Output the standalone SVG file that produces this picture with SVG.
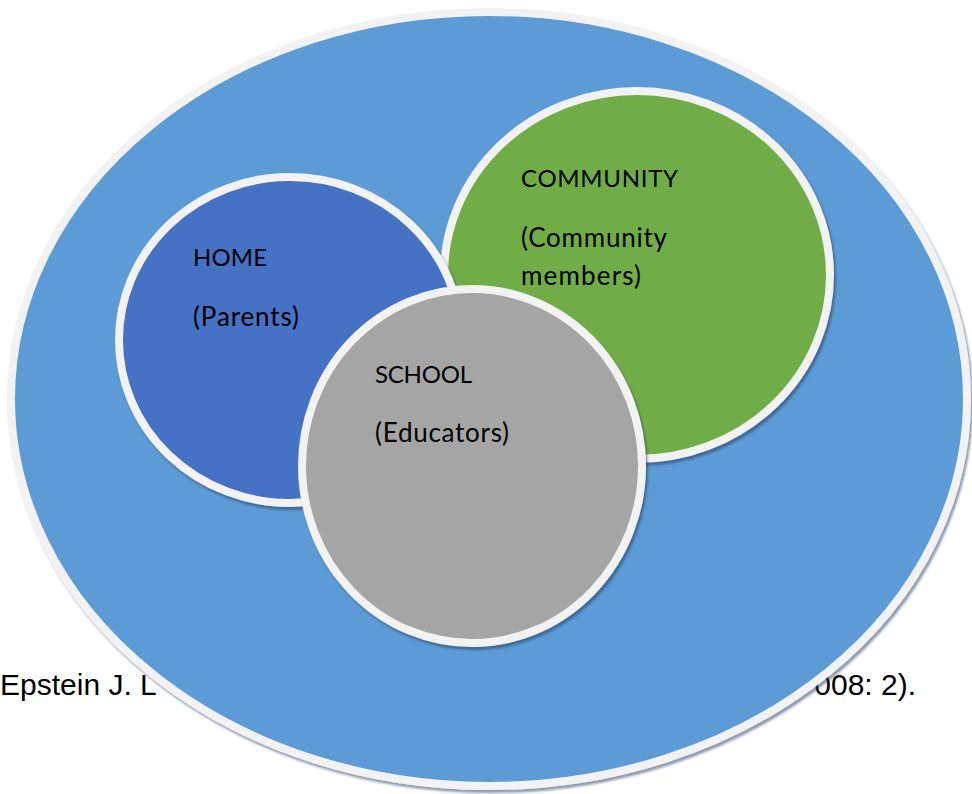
<svg xmlns="http://www.w3.org/2000/svg" width="972" height="794" viewBox="0 0 972 794">
  <defs>
    <filter id="shade" x="-5%" y="-5%" width="112%" height="112%">
      <feDropShadow dx="2" dy="3" stdDeviation="1.2" flood-color="#1F3864" flood-opacity="0.5"/>
    </filter>
  </defs>
  <style>
    .ring { stroke: #F2F2F2; stroke-width: 8; filter: url(#shade); }
    .label { font-family: Lato, "Open Sans", sans-serif; font-size: 26px; fill: #000000; }
    .head { font-family: Lato, "Open Sans", sans-serif; font-size: 24px; fill: #000000; }
    .cite { font-family: "Liberation Sans", Arial, sans-serif; font-size: 30px; fill: #000000; }
  </style>

  <!-- citation line running underneath the outer ellipse -->
  <g id="citation">
    <text class="cite" x="0" y="695">Epstein J. L</text>
    <text class="cite" x="916" y="695" text-anchor="end">008: 2).</text>
  </g>

  <!-- outer field -->
  <g id="outer">
    <ellipse class="ring" cx="489" cy="399" rx="478" ry="387" fill="#5B9BD5"/>
  </g>

  <!-- community sphere -->
  <g id="community">
    <ellipse class="ring" cx="637" cy="275" rx="193" ry="184" fill="#70AD47"/>
    <text class="head" x="521" y="187" textLength="157">COMMUNITY</text>
    <text class="label" x="521" y="247" textLength="146">(Community</text>
    <text class="label" x="521" y="285" textLength="120">members)</text>
  </g>

  <!-- home sphere -->
  <g id="home">
    <ellipse class="ring" cx="290" cy="340" rx="171" ry="163" fill="#4472C4"/>
    <text class="head" x="193" y="266" textLength="74">HOME</text>
    <text class="label" x="193" y="326" textLength="106">(Parents)</text>
  </g>

  <!-- school sphere -->
  <g id="school">
    <ellipse class="ring" cx="472" cy="466" rx="170" ry="177" fill="#A5A5A5"/>
    <text class="head" x="375" y="383" textLength="97">SCHOOL</text>
    <text class="label" x="375" y="442" textLength="134">(Educators)</text>
  </g>
</svg>
